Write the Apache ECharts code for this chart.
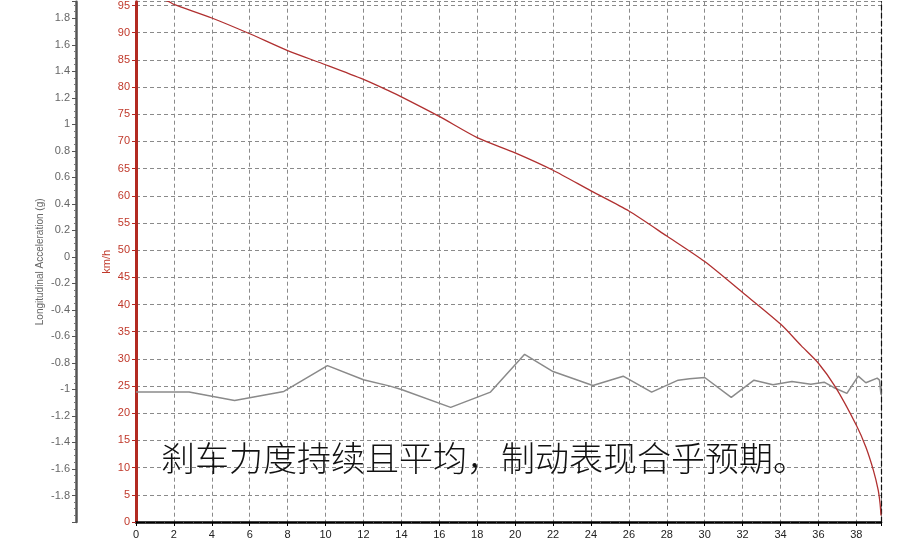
<!DOCTYPE html>
<html>
<head>
<meta charset="utf-8">
<script src="https://cdn.jsdelivr.net/npm/echarts@6/dist/echarts.min.js"></script>
<style>html,body{margin:0;padding:0;background:#fff;}#c{width:908px;height:545px;}</style>
</head>
<body>
<div id="c"></div>
<script>
// Distance (m) axis ticks
const distTicks = [0,2,4,6,8,10,12,14,16,18,20,22,24,26,28,30,32,34,36,38];
// Speed curve (km/h) vs distance (m)
const speedDist = [0,1.74,2,4,6,8,10,12,13.4,14,16,18,20,22,24,26,28,30,32,34,35.1,36,36.9,38,38.5,38.9,39.15,39.25,39.3];
const speedVals = [98.0,95.7,95.2,92.7,89.8,86.7,84.1,81.4,79.2,78.2,74.6,70.7,67.9,64.7,60.9,57.2,52.6,47.9,42.2,36.4,32.4,29.2,24.8,17.8,13.8,9.5,5.9,3.4,1.2];
// Longitudinal acceleration (g) vs distance (m)
const accelDist = [0,2.8,5.2,7.8,10.1,12,13.4,14,16.6,18.7,20.5,22,24.1,25.7,27.2,28.6,29.2,30,31.4,32.6,33.6,34.6,35.6,36.3,36.8,37.5,38.1,38.5,39.1,39.22,39.3];
const accelVals = [-1.02,-1.02,-1.083,-1.015,-0.82,-0.927,-0.975,-1.0,-1.135,-1.02,-0.735,-0.865,-0.97,-0.90,-1.02,-0.93,-0.92,-0.91,-1.06,-0.93,-0.965,-0.94,-0.96,-0.945,-0.985,-1.03,-0.90,-0.95,-0.915,-0.93,-1.04];
const caption = '刹车力度持续且平均，制动表现合乎预期。';

const speedData = speedDist.map((d,i)=>[d, speedVals[i]]);
const accelData = accelDist.map((d,i)=>[d, accelVals[i]]);

const chart = echarts.init(document.getElementById('c'));
const gridDash = {color:'#8a8a8a', width:1, type:[4,3]};
chart.setOption({
  backgroundColor:'#fff',
  animation:false,
  grid:{left:136, right:27, top:0, bottom:23, containLabel:false},
  xAxis:{
    type:'value', min:0, max:39.3, interval:2,
    axisLine:{show:true, onZero:false, lineStyle:{color:'#000', width:2.5}},
    axisTick:{show:true, length:4, lineStyle:{color:'#000'}},
    minorTick:{show:true, splitNumber:4, length:2, lineStyle:{color:'#444'}},
    axisLabel:{color:'#222', fontSize:11, fontFamily:'Liberation Sans, Arial', margin:7, showMaxLabel:false,
      formatter:v=> distTicks.indexOf(v)>=0 ? String(v) : ''},
    splitLine:{show:true, lineStyle:gridDash}
  },
  yAxis:[
    {
      type:'value', min:0, max:95.7, interval:5, position:'left',
      name:'km/h', nameLocation:'middle', nameGap:24, nameRotate:90, nameMoveOverlap:false,
      nameTextStyle:{color:'#c0392b', fontSize:11, fontFamily:'Liberation Sans, Arial'},
      axisLine:{show:true, lineStyle:{color:'#b22a22', width:3}},
      axisTick:{show:true, length:4, lineStyle:{color:'#b22a22'}},
      axisLabel:{color:'#c0392b', fontSize:11, fontFamily:'Liberation Sans, Arial', margin:6, showMaxLabel:false,
        formatter:v=> (v%5===0) ? String(v) : ''},
      splitLine:{show:true, lineStyle:gridDash}
    },
    {
      type:'value', min:-2, max:1.925, interval:0.2, position:'left', offset:60,
      name:'Longitudinal Acceleration (g)', nameLocation:'middle', nameGap:31, nameRotate:90, nameMoveOverlap:false,
      nameTextStyle:{color:'#666', fontSize:10, fontFamily:'Liberation Sans, Arial'},
      axisLine:{show:true, lineStyle:{color:'#555', width:2.5}},
      axisTick:{show:true, length:4, lineStyle:{color:'#555'}},
      minorTick:{show:true, splitNumber:4, length:2, lineStyle:{color:'#777'}},
      axisLabel:{color:'#666', fontSize:11, fontFamily:'Liberation Sans, Arial', margin:6, showMaxLabel:false, showMinLabel:false,
        formatter:v=>{ const r=Math.round(v*5)/5; if(Math.abs(v-r)>1e-6) return ''; if(r<=-1.99) return ''; return String(Math.round(r*10)/10); }},
      splitLine:{show:false}
    },
    {
      type:'value', min:0, max:95.7, position:'right',
      axisLine:{show:true, lineStyle:{color:'#111', width:1.2, type:[5,3]}},
      axisTick:{show:false}, axisLabel:{show:false}, splitLine:{show:false}
    }
  ],
  series:[
    {
      type:'line', yAxisIndex:1, data:accelData, showSymbol:false, symbol:'none',
      lineStyle:{color:'#8a8a8a', width:1.5}, z:3
    },
    {
      type:'line', yAxisIndex:0, data:speedData, showSymbol:false, symbol:'none', smooth:0.25,
      lineStyle:{color:'#b03030', width:1.3}, z:4
    }
  ],
  graphic:[
    {type:'text', left:161, top:441, z:100,
     style:{text:caption, fill:'#111', font:'300 34px "Noto Sans CJK SC", sans-serif'}}
  ]
});
</script>
</body>
</html>
